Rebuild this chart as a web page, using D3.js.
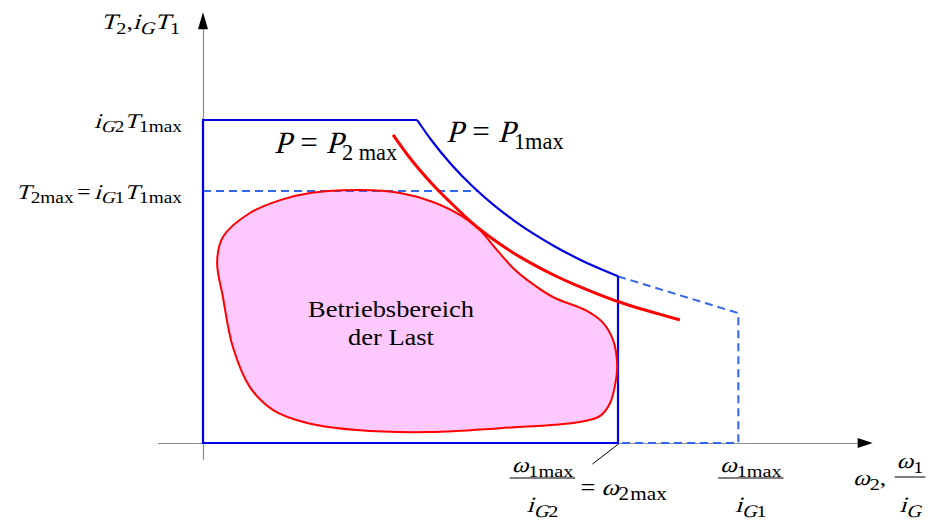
<!DOCTYPE html>
<html>
<head>
<meta charset="utf-8">
<script src="https://cdn.jsdelivr.net/npm/d3@7"></script>
<style>
  body { margin: 0; background: #fff; }
  svg text { fill: #000; }
</style>
</head>
<body>
<svg id="chart" width="930" height="528"></svg>
<script>
// Speed axis in units where ω2max = 100, torque axis in units where iG2·T1max = 100.
const omega2Max = 100;            // ω1max / iG2
const omega2MaxGear1 = 129;       // ω1max / iG1
const torqueGear2 = 100;          // iG2 · T1max
const torque2Max = 78;            // T2max = iG1 · T1max
const p1CornerSpeed = 51.6;       // start of the constant-power section
const gear1EndTorque = 40.2;      // torque at ω1max / iG1 on the P1max line

// Constant-power line P = P1max (solid part)
const p1MaxCurve = [
  [51.6, 100], [55, 93.8], [60, 86], [65, 79.4], [70, 73.7], [75, 68.8],
  [80, 64.5], [85, 60.7], [90, 57.3], [95, 54.3], [100, 51.6]
];

// Constant-power line P = P2max
const p2MaxCurve = [
  [45.8, 95.4], [50, 88], [55, 80.5], [60, 74], [65, 68], [70, 63], [75, 58.7],
  [80, 55], [85, 51.7], [90, 48.8], [95, 46.2], [100, 43.8], [105, 41.7],
  [110, 39.9], [114.9, 38.1]
];

// Operating region of the load (closed outline)
const loadRegion = [
  [4.8, 63.8], [11.3, 71.2], [18.6, 75.2], [25.8, 77.4], [37.8, 78.3],
  [47.5, 77.4], [55.4, 74.6], [62.4, 70.2], [66.7, 65.9], [70.8, 59.8],
  [74.7, 54.2], [78.1, 50.5], [84.3, 45.2], [92.5, 40.9], [96.4, 37.2],
  [98.8, 31.9], [99.8, 24.1], [99.3, 18.0], [98.1, 12.4], [95.7, 8.4],
  [90.8, 6.5], [71.6, 4.6], [54.7, 3.4], [37.1, 4.0], [25.1, 6.2],
  [16.9, 10.2], [11.3, 17.3], [7.2, 29.7], [4.8, 45.2], [3.4, 56.0]
];

// Tick positions and their labels
// math parts: [text, kind] with kind i = italic, r = roman, si/sr = subscript, gap = spacing in px
const yTickValues = [torqueGear2, torque2Max];
const yTickLabels = [
  [["i", "i"], ["G", "si"], ["2", "sr"], ["T", "i"], ["1max", "sr"]],
  [["T", "i"], ["2max", "sr"], [3, "gap"], ["=", "r"], [3, "gap"], ["i", "i"], ["G", "si"], ["1", "sr"], ["T", "i"], ["1max", "sr"]]
];
const xTickValues = [omega2Max, omega2MaxGear1];
const xTickNumerators = [
  [["ω", "i"], ["1max", "sr"]],
  [["ω", "i"], ["1max", "sr"]]
];
const xTickDenominators = [
  [["i", "i"], ["G", "si"], ["2", "sr"]],
  [["i", "i"], ["G", "si"], ["1", "sr"]]
];
const xTickSuffix = [["=", "r"], [5, "gap"], ["ω", "i"], ["2", "sr"], [1, "gap"], ["max", "sr"]];
const yAxisTitle = [["T", "i"], ["2", "sr"], [",", "r"], ["i", "i"], ["G", "si"], ["T", "i"], ["1", "sr"]];
const xAxisTitle = [["ω", "i"], ["2", "sr"], [",", "r"]];
const xAxisTitleNum = [["ω", "i"], ["1", "sr"]];
const xAxisTitleDen = [["i", "i"], ["G", "si"]];
const regionLabel = ["Betriebsbereich", "der Last"];
const p2Label = [["P", "i"], [9, "gap"], ["=", "r"], [8, "gap"], ["P", "i"], [-1, "gap"], ["2 max", "sr"]];
const p1Label = [["P", "i"], [9, "gap"], ["=", "r"], [8, "gap"], ["P", "i"], [-1, "gap"], ["1max", "sr"]];

const FONT = "Liberation Serif";
const SX = 1.15;        // horizontal stretch of most lettering
const SLANT = -15;      // synthetic italic slant (degrees)
const svg = d3.select("#chart");

// Scales
const x = d3.scaleLinear().domain([0, 100]).range([203, 618]);
const y = d3.scaleLinear().domain([0, 100]).range([443, 120]);
const xAxisScale = x.copy().domain([-11, 158]).range([x(-11), x(158)]);
const yAxisScale = y.copy().domain([-5, 129]).range([y(-5), y(129)]);

const line = d3.line().x(d => x(d[0])).y(d => y(d[1]));

// Lays out a formula piece by piece on a common baseline
function mathText(g, parts, o) {
  const grp = g.append("g");
  const inner = grp.append("g");
  const subRatio = o.subRatio || 0.8;
  const sx = o.sx || SX;
  let cx = 0;
  parts.forEach(([s, k]) => {
    if (k === "gap") { cx += s; return; }
    const sub = k[0] === "s";
    const size = sub ? o.size * subRatio : o.size;
    const by = sub ? o.size * 0.22 : 0;
    const t = inner.append("text")
      .attr("xml:space", "preserve")
      .attr("text-anchor", "start")
      .style("font-family", FONT)
      .style("font-size", size + "px")
      .text(s);
    t.attr("transform", `translate(${cx},${by})` + (k.endsWith("i") ? ` skewX(${SLANT})` : ""));
    cx += t.node().getComputedTextLength();
  });
  const dx = o.anchor === "end" ? -cx : o.anchor === "middle" ? -cx / 2 : 0;
  inner.attr("transform", `translate(${dx},0)`);
  grp.attr("transform", `translate(${o.x},${o.y}) scale(${sx},1)`);
  return cx * sx;
}

function fraction(g, num, den, o) {
  const wn = mathText(g, num, { x: o.x, y: o.y - o.up, anchor: "middle", size: o.size });
  const wd = mathText(g, den, { x: o.x, y: o.y + o.down, anchor: "middle", size: o.size });
  const w = Math.max(wn, wd) + 4;
  g.append("line")
    .attr("x1", o.x - w / 2).attr("x2", o.x + w / 2)
    .attr("y1", o.y).attr("y2", o.y)
    .attr("stroke", "#000").attr("stroke-width", 1);
}

// Operating region fill
svg.append("path")
  .datum(loadRegion)
  .attr("d", line.curve(d3.curveCatmullRomClosed.alpha(0.5)))
  .attr("fill", "#ffc8ff")
  .attr("stroke", "none");

// Axes
const axisColor = "#8a8a8a";
const yAxisG = svg.append("g").attr("transform", `translate(${x(0)},0)`)
  .call(d3.axisLeft(yAxisScale).tickValues(yTickValues).tickSize(0).tickSizeOuter(0).tickFormat(""));
yAxisG.select(".domain").attr("stroke", axisColor).attr("stroke-width", 1.2);
const xAxisG = svg.append("g").attr("transform", `translate(0,${y(0)})`)
  .call(d3.axisBottom(xAxisScale).tickValues(xTickValues).tickSize(0).tickSizeOuter(0).tickFormat(""));
xAxisG.select(".domain").attr("stroke", axisColor).attr("stroke-width", 1.2);

// Arrow heads
const yTip = yAxisScale(129) - 14;
svg.append("path")
  .attr("d", `M${x(0)},${yTip} L${x(0) - 5},${yTip + 17} L${x(0) + 5},${yTip + 17} Z`)
  .attr("fill", "#000");
const xTip = xAxisScale(158) + 14;
svg.append("path")
  .attr("d", `M${xTip},${y(0)} L${xTip - 15},${y(0) - 5} L${xTip - 15},${y(0) + 5} Z`)
  .attr("fill", "#000");

// Dashed extensions (gear 1)
const dashBlue = "#3366ee";
svg.append("path")
  .datum([[0, torque2Max], [p1MaxCurve[0][0] * torqueGear2 / torque2Max, torque2Max]])
  .attr("d", line.curve(d3.curveLinear))
  .attr("fill", "none").attr("stroke", dashBlue).attr("stroke-width", 2)
  .attr("stroke-dasharray", "8,5");
svg.append("path")
  .datum([[omega2Max, p1MaxCurve[p1MaxCurve.length - 1][1]], [omega2MaxGear1, gear1EndTorque], [omega2MaxGear1, 0], [omega2Max, 0]])
  .attr("d", line.curve(d3.curveLinear))
  .attr("fill", "none").attr("stroke", dashBlue).attr("stroke-width", 2)
  .attr("stroke-dasharray", "8,5");

// Solid boundary (gear 2)
const solidBlue = "#0000e0";
svg.append("path")
  .datum([[p1CornerSpeed, torqueGear2], [0, torqueGear2], [0, 0], [omega2Max, 0], [omega2Max, p1MaxCurve[p1MaxCurve.length - 1][1]]])
  .attr("d", line.curve(d3.curveLinear))
  .attr("fill", "none").attr("stroke", solidBlue).attr("stroke-width", 2.2);
svg.append("path")
  .datum(p1MaxCurve)
  .attr("d", line.curve(d3.curveMonotoneX))
  .attr("fill", "none").attr("stroke", solidBlue).attr("stroke-width", 2.2);

// Region outline
svg.append("path")
  .datum(loadRegion)
  .attr("d", line.curve(d3.curveCatmullRomClosed.alpha(0.5)))
  .attr("fill", "none")
  .attr("stroke", "#ff0000").attr("stroke-width", 2);

// P2max line
svg.append("path")
  .datum(p2MaxCurve)
  .attr("d", line.curve(d3.curveMonotoneX))
  .attr("fill", "none")
  .attr("stroke", "#ff0000").attr("stroke-width", 3);

// Y tick labels
yAxisG.selectAll(".tick").each(function(d, i) {
  mathText(d3.select(this), yTickLabels[i], { x: -21, y: 7, anchor: "end", size: 21 });
});

// X tick labels
xAxisG.selectAll(".tick").each(function(d, i) {
  const g = d3.select(this);
  if (i === 0) {
    fraction(g, xTickNumerators[i], xTickDenominators[i], { x: -76, y: 35, up: 6, down: 34, size: 22 });
    mathText(g, xTickSuffix, { x: -38, y: 52, size: 23 });
    g.append("line").attr("x1", -26).attr("y1", 21).attr("x2", 0).attr("y2", 1)
      .attr("stroke", "#000").attr("stroke-width", 1);
  } else {
    fraction(g, xTickNumerators[i], xTickDenominators[i], { x: 12, y: 35, up: 6, down: 34, size: 22 });
  }
});

// Axis titles
mathText(svg, yAxisTitle, { x: 180, y: 29, anchor: "end", size: 22 });
const xt = svg.append("g").attr("transform", `translate(0,${y(0)})`);
mathText(xt, xAxisTitle, { x: 853, y: 42, size: 22 });
fraction(xt, xAxisTitleNum, xAxisTitleDen, { x: 910, y: 34, up: 9, down: 35, size: 22 });

// Power line labels
mathText(svg, p2Label, { x: 274, y: 153, size: 31, subRatio: 0.72, sx: 1 });
mathText(svg, p1Label, { x: 446, y: 142, size: 31, subRatio: 0.72, sx: 1 });

// Region label
regionLabel.forEach((s, i) => {
  svg.append("text")
    .attr("transform", `translate(391,${317 + i * 28}) scale(${SX},1)`)
    .attr("text-anchor", "middle")
    .style("font-family", FONT).style("font-size", "23px")
    .text(s);
});
</script>
</body>
</html>
